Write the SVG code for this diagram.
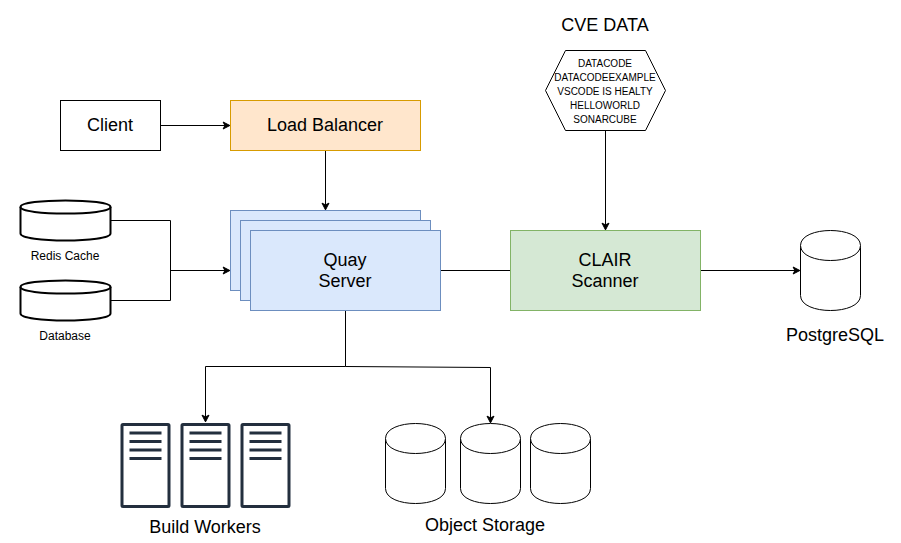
<svg xmlns="http://www.w3.org/2000/svg" width="901" height="543" viewBox="0 0 901 543">
<style>
text{font-family:"Liberation Sans",Arial,sans-serif;fill:#000;text-anchor:middle}
.t18{font-size:18px}.t12{font-size:12px}.t10{font-size:10px}
.s{stroke:#000;stroke-width:1;fill:#fff}
.blue{fill:#dae8fc;stroke:#6c8ebf;stroke-width:1}
.c{fill:none;stroke:#000;stroke-width:1}
.srv{fill:#fff;stroke:#232f3e;stroke-width:3;stroke-linejoin:round}
.bar{stroke:#232f3e;stroke-width:3;fill:none}
.db{fill:#fff;stroke:#000;stroke-width:1}
.db2{fill:#fff;stroke:#000;stroke-width:2}
</style>
<defs>
<marker id="a" markerUnits="userSpaceOnUse" markerWidth="10" markerHeight="9" viewBox="-1 -1 10 9" refX="1.88" refY="3.5" orient="auto"><path d="M0 0L6.76 3.5L0 7L1.76 3.5Z" fill="#000" stroke="#000" stroke-width="1"/></marker>
<g id="srvg"><rect class="srv" x="1.5" y="1.5" width="47" height="82" rx="1"/><path class="bar" d="M9 10H41M9 18.500H41M9 27H41M9 35.500H41"/></g>
<g id="cyl"><path class="db" d="M0 15C0 -5 60 -5 60 15V65C60 85 0 85 0 65Z"/><path class="db" d="M0 15C0 35 60 35 60 15" fill="none"/></g>
<g id="flat"><path class="db2" d="M0 6.500C0 -2.200 90 -2.200 90 6.500V33C90 42.300 0 42.300 0 33Z"/><path class="db2" d="M0 6.500C0 15.200 90 15.200 90 6.500" fill="none"/></g>
</defs>
<g id="connectors">
<path class="c" marker-end="url(#a)" d="M160.500 125.500H225"/>
<path class="c" marker-end="url(#a)" d="M325.500 150.500V205"/>
<path class="c" d="M110.500 220.500H170.500V300.500H110.500"/>
<path class="c" marker-end="url(#a)" d="M170.500 270.500H225"/>
<path class="c" d="M440.500 270.500H510.500"/>
<path class="c" marker-end="url(#a)" d="M700.500 270.500H795"/>
<path class="c" marker-end="url(#a)" d="M605.500 130.500V225"/>
<path class="c" marker-end="url(#a)" d="M345.500 310.500V366.500H205.500V417"/>
<path class="c" marker-end="url(#a)" d="M345.500 366.500L490.500 367.500V418"/>
</g>
<g id="client"><rect class="s" x="60.500" y="100.500" width="100" height="50"/><text class="t18" x="110" y="131">Client</text></g>
<g id="load-balancer"><rect x="230.500" y="100.500" width="190" height="50" fill="#ffe6cc" stroke="#d79b00"/><text class="t18" x="325" y="131">Load Balancer</text></g>
<g id="redis"><use href="#flat" x="20.500" y="200.500"/><text class="t12" x="65" y="260">Redis Cache</text></g>
<g id="database"><use href="#flat" x="20.500" y="280.500"/><text class="t12" x="65" y="340">Database</text></g>
<g id="quay">
<rect class="blue" x="230.500" y="210.500" width="190" height="80"/>
<rect class="blue" x="240.500" y="220.500" width="190" height="80"/>
<rect class="blue" x="250.500" y="230.500" width="190" height="80"/>
<text class="t18" x="345" y="266">Quay</text><text class="t18" x="345" y="287">Server</text>
</g>
<g id="clair"><rect x="510.500" y="230.500" width="190" height="80" fill="#d5e8d4" stroke="#82b366"/><text class="t18" x="605" y="266">CLAIR</text><text class="t18" x="605" y="287">Scanner</text></g>
<g id="postgres"><use href="#cyl" x="800.500" y="230.500"/><text class="t18" x="835" y="341">PostgreSQL</text></g>
<g id="cve">
<text class="t18" x="605" y="31">CVE DATA</text>
<path class="s" d="M565.500 50.500H645.500L665.500 90.500L645.500 130.500H565.500L545.500 90.500Z"/>
<text class="t10" x="605" y="67">DATACODE</text>
<text class="t10" x="605" y="81">DATACODEEXAMPLE</text>
<text class="t10" x="605" y="95">VSCODE IS HEALTY</text>
<text class="t10" x="605" y="109">HELLOWORLD</text>
<text class="t10" x="605" y="123">SONARCUBE</text>
</g>
<g id="build-workers">
<use href="#srvg" x="120.500" y="423"/><use href="#srvg" x="180.500" y="423"/><use href="#srvg" x="240.500" y="423"/>
<text class="t18" x="205" y="533">Build Workers</text>
</g>
<g id="object-storage">
<use href="#cyl" x="385.500" y="423.500"/><use href="#cyl" x="460.500" y="423.500"/><use href="#cyl" x="530.500" y="423.500"/>
<text class="t18" x="485" y="531">Object Storage</text>
</g>
</svg>
